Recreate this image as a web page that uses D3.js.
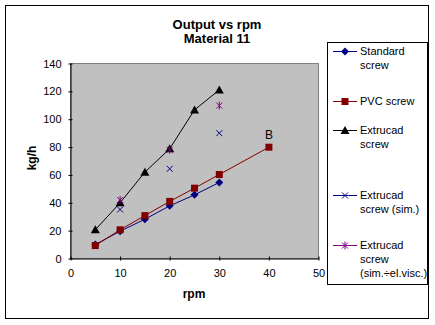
<!DOCTYPE html>
<html><head><meta charset="utf-8">
<script src="https://cdn.jsdelivr.net/npm/d3@7"></script>
<style>body{margin:0;background:#fff;} svg{display:block;font-family:Arial,"Liberation Sans",sans-serif;}</style>
</head><body><svg id="c" width="435" height="325"></svg>
<script>
const xTicks = [0,10,20,30,40,50];
const yTicks = [0,20,40,60,80,100,120,140];
const stdX = [5,10,15,20,25,30];
const stdY = [10,19.6,28.2,37.8,45.7,54.6];
const pvcX = [5,10,15,20,25,30,40];
const pvcY = [9.3,20.6,30.8,41,50.5,60.3,79.9];
const extX = [5,10,15,20,25,30];
const extY = [20.6,40,62,78.8,106.7,121];
const simX = [10,20,30];
const simY = [35.2,64.4,90];
const viscX = [10,20,30];
const viscY = [42,78,109.8];
const seriesNames = [["Standard","screw"],["PVC screw"],["Extrucad","screw"],["Extrucad","screw (sim.)"],["Extrucad","screw","(sim.÷el.visc.)"]];

const svg = d3.select("#c");
svg.append("rect").attr("x",5.5).attr("y",5.5).attr("width",423).attr("height",313).attr("fill","#fff").attr("stroke","#000");

const x = d3.scaleLinear().domain([0,50]).range([70.5,318.5]);
const y = d3.scaleLinear().domain([0,140]).range([258.5,63.5]);

svg.append("rect").attr("x",x(0)).attr("y",y(140)).attr("width",x(50)-x(0)).attr("height",y(0)-y(140))
  .attr("fill","#c0c0c0").attr("stroke","#808080");

const yAxis = svg.append("g").attr("transform",`translate(${x(0)},0)`)
  .call(d3.axisLeft(y).tickValues(yTicks).tickSizeInner(2).tickSizeOuter(0).tickPadding(7));
yAxis.selectAll(".tick line").attr("x2",2).attr("x1",-2);
const xAxis = svg.append("g").attr("transform",`translate(0,${y(0)})`)
  .call(d3.axisBottom(x).tickValues(xTicks).tickSizeInner(2).tickSizeOuter(0).tickPadding(7));
xAxis.selectAll(".tick line").attr("y1",-2).attr("y2",2);
[yAxis,xAxis].forEach(a=>{a.select(".domain").attr("stroke","#000");a.selectAll("text").attr("font-size",11).attr("font-family","Arial, 'Liberation Sans'").attr("fill","#000");});
xAxis.selectAll("text").attr("dy","0.9em");

svg.append("text").attr("x",217).attr("y",29).attr("text-anchor","middle").attr("font-weight","bold").attr("font-size",13).text("Output vs rpm");
svg.append("text").attr("x",217).attr("y",43).attr("text-anchor","middle").attr("font-weight","bold").attr("font-size",13).text("Material 11");
svg.append("text").attr("x",194).attr("y",298).attr("text-anchor","middle").attr("font-weight","bold").attr("font-size",12).text("rpm");
svg.append("text").attr("transform","translate(36,158) rotate(-90)").attr("text-anchor","middle").attr("font-weight","bold").attr("font-size",12).text("kg/h");

const line = d3.line().x(d=>x(d[0])).y(d=>y(d[1]));
function zip(a,b){return a.map((v,i)=>[v,b[i]]);}
const g = svg.append("g");
function drawMarker(sel, type, color, cx, cy){
  if(type==="diamond"){
    sel.append("path").attr("d",`M${cx},${cy-4}L${cx+4},${cy}L${cx},${cy+4}L${cx-4},${cy}Z`).attr("fill",color);
  } else if(type==="square"){
    sel.append("rect").attr("x",cx-3.5).attr("y",cy-3.5).attr("width",7).attr("height",7).attr("fill",color);
  } else if(type==="tri"){
    sel.append("path").attr("d",`M${cx},${cy-4.5}L${cx+4.5},${cy+3.5}L${cx-4.5},${cy+3.5}Z`).attr("fill",color);
  } else if(type==="x"){
    sel.append("path").attr("d",`M${cx-3},${cy-3}L${cx+3},${cy+3}M${cx-3},${cy+3}L${cx+3},${cy-3}`).attr("stroke",color).attr("stroke-width",1);
  } else if(type==="star"){
    sel.append("path").attr("d",`M${cx-3},${cy-3}L${cx+3},${cy+3}M${cx-3},${cy+3}L${cx+3},${cy-3}M${cx},${cy-4}L${cx},${cy+4}`).attr("stroke",color).attr("stroke-width",1);
  }
}
const series = [
  {xs:stdX, ys:stdY, color:"#000080", m:"diamond", line:true},
  {xs:pvcX, ys:pvcY, color:"#800000", m:"square", line:true},
  {xs:extX, ys:extY, color:"#000000", m:"tri", line:true},
  {xs:simX, ys:simY, color:"#000080", m:"x", line:false},
  {xs:viscX, ys:viscY, color:"#800080", m:"star", line:false}
];
series.forEach(s=>{
  const pts = zip(s.xs,s.ys);
  if(s.line) g.append("path").attr("d",line(pts)).attr("fill","none").attr("stroke",s.color).attr("stroke-width",1);
});
series.forEach(s=>{
  zip(s.xs,s.ys).forEach(p=>drawMarker(g,s.m,s.color,x(p[0]),y(p[1])));
});
svg.append("text").attr("x",x(40)).attr("y",y(88.5)).attr("dy","0.35em").attr("text-anchor","middle").attr("font-size",12).text("B");

// legend
svg.append("rect").attr("x",327.5).attr("y",42.5).attr("width",100).attr("height",242).attr("fill","#fff").attr("stroke","#000");
const legY = [51,101,130,195,245];
series.forEach((s,i)=>{
  const ly = legY[i];
  svg.append("line").attr("x1",333).attr("x2",357).attr("y1",ly+0.5).attr("y2",ly+0.5).attr("stroke",s.color);
  drawMarker(svg,s.m,s.color,345,ly+0.5);
  seriesNames[i].forEach((t,j)=>{
    svg.append("text").attr("x",360).attr("y",ly+j*14).attr("dy","0.35em").attr("font-size",11).text(t);
  });
});
</script></body></html>
